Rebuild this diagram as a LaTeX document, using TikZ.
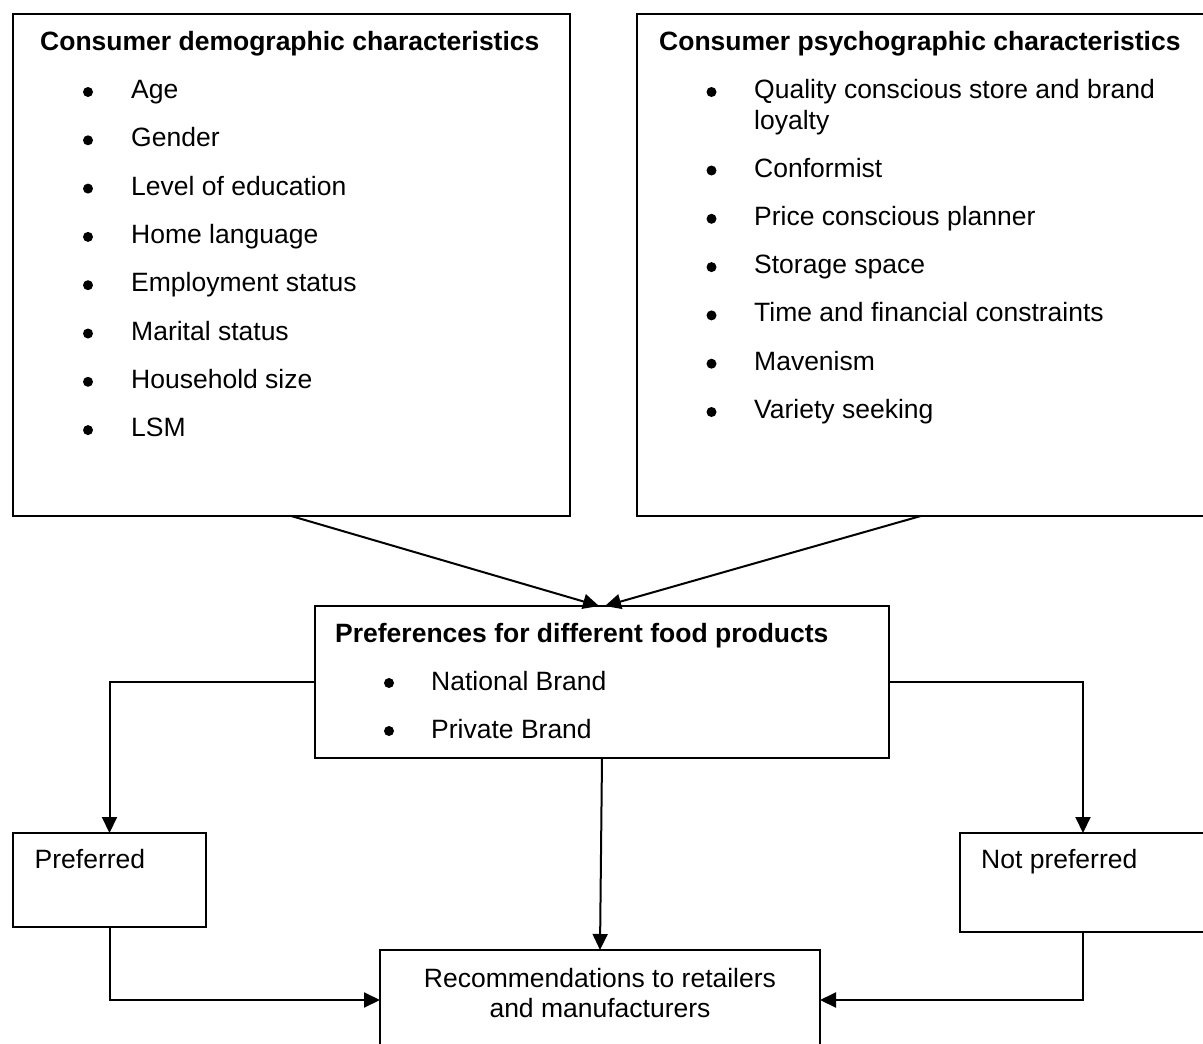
\documentclass[tikz,border=0pt]{standalone}
\usepackage{fontspec}
\setmainfont{Liberation Sans}
\usetikzlibrary{arrows.meta, calc}

\begin{document}
\begin{tikzpicture}[x=1pt, y=-1pt,
		box/.style = {draw, line width=2pt, inner sep=0pt, outer sep=0pt},
		txt/.style = {anchor=base west, inner sep=0pt, font=\fontsize{26.5}{30.5}\selectfont},
		hd/.style = {txt, font=\fontsize{26.5}{30.5}\selectfont\bfseries},
		arr/.style = {line width=2pt, -{Triangle[length=16pt, width=15pt]}}]
		
		\clip (0,0) rectangle (1203,1044);
		
		% boxes
		\begin{scope}
			\node [box, minimum width=557.5pt, minimum height=502pt] (demog) at (291.25,265) {};
			\node [box, minimum width=578.5pt, minimum height=502pt] (psych) at (925.75,265) {};
			\node [box, minimum width=574pt, minimum height=152pt] (pref) at (602,682) {};
			\node [box, minimum width=193pt, minimum height=94pt] (prefd) at (109.5,880) {};
			\node [box, minimum width=246pt, minimum height=99pt] (notprefd) at (1083,882.5) {};
			\node [box, minimum width=440pt, minimum height=100pt] (recom) at (600,1000) {};
		\end{scope}
		
		% bullets
		\begin{scope}
			\foreach \y in {92, 140.3, 188.6, 236.9, 285.2, 333.5, 381.8, 430.1}
				\fill (88,\y) circle (5pt);
			\foreach \y in {92, 170.5, 218.8, 267.1, 315.4, 363.7, 412}
				\fill (711.5,\y) circle (5pt);
			\foreach \y in {683, 731}
				\fill (389,\y) circle (5pt);
		\end{scope}
		
		% demographic
		\begin{scope}
			\node [hd] (demoghd) at (40,50) {Consumer demographic characteristics};
			\node [txt] (age) at (131,98.5) {Age};
			\node [txt] (gender) at (131,146.8) {Gender};
			\node [txt] (educ) at (131,195.1) {Level of education};
			\node [txt] (lang) at (131,243.4) {Home language};
			\node [txt] (employ) at (131,291.7) {Employment status};
			\node [txt] (marital) at (131,340) {Marital status};
			\node [txt] (house) at (131,388.3) {Household size};
			\node [txt] (lsm) at (131,436.6) {LSM};
		\end{scope}
		
		% psychographic
		\begin{scope}
			\node [hd] (psychhd) at (659,50) {Consumer psychographic characteristics};
			\node [txt] (quality) at (754,98.5) {Quality conscious store and brand};
			\node [txt] (loyalty) at (754,129) {loyalty};
			\node [txt] (conform) at (754,177) {Conformist};
			\node [txt] (price) at (754,225.3) {Price conscious planner};
			\node [txt] (storage) at (754,273.6) {Storage space};
			\node [txt] (time) at (754,321.9) {Time and financial constraints};
			\node [txt] (maven) at (754,370.2) {Mavenism};
			\node [txt] (variety) at (754,418.5) {Variety seeking};
		\end{scope}
		
		% preferences and outcomes
		\begin{scope}
			\node [hd] (prefhd) at (335,642) {Preferences for different food products};
			\node [txt] (natl) at (431,690) {National Brand};
			\node [txt] (priv) at (431,738) {Private Brand};
			\node [txt] (prefdtxt) at (34.5,868) {Preferred};
			\node [txt] (notprefdtxt) at (981,868) {Not preferred};
			\node [txt, anchor=base] (recomone) at (600,987) {Recommendations to retailers};
			\node [txt, anchor=base] (recomtwo) at (600,1017.5) {and manufacturers};
		\end{scope}
		
		% connectors
		\begin{scope}
			\draw [arr] (demog.south) -- ([xshift=-3pt]pref.north);
			\draw [arr] ([xshift=-5pt]psych.south) -- ([xshift=3pt]pref.north);
			\draw [arr] (pref.west) -| (prefd.north);
			\draw [arr] (pref.east) -| (notprefd.north);
			\draw [arr] (pref.south) -- (recom.north);
			\draw [arr] (prefd.south) |- (recom.west);
			\draw [arr] (notprefd.south) |- (recom.east);
		\end{scope}
	\end{tikzpicture}
\end{document}
